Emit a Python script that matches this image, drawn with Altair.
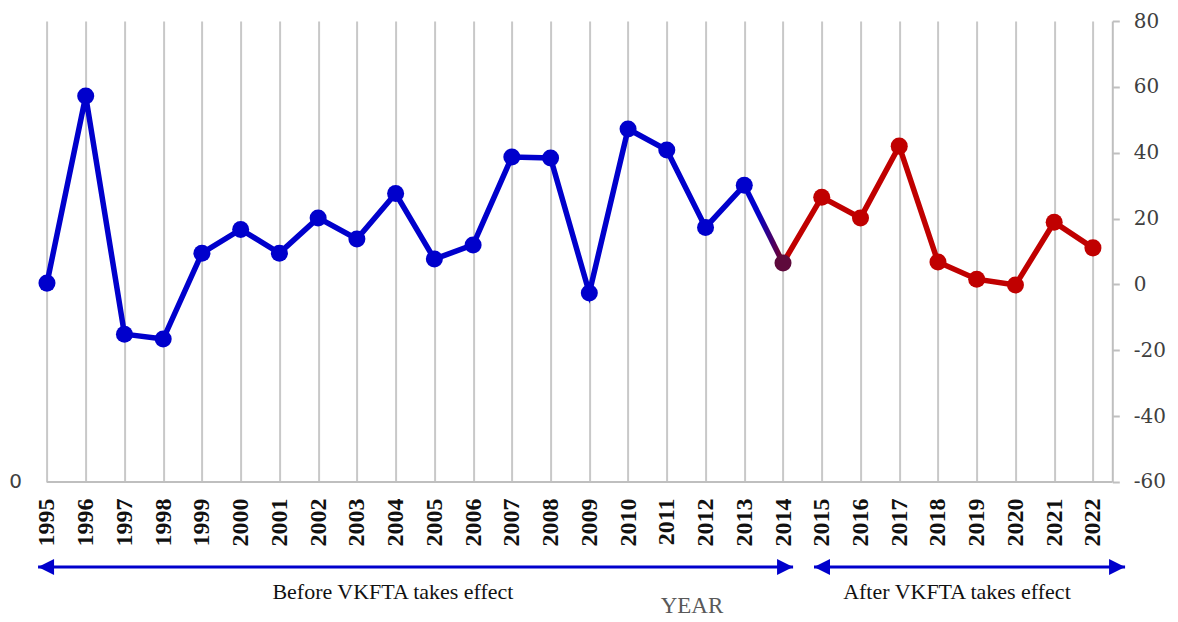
import altair as alt
import pandas as pd

# ---- data ----
years = list(range(1995, 2023))
values = [0.4, 57.2, -15.1, -16.6, 9.5, 16.7, 9.5, 20.2, 13.8, 27.6,
          7.7, 12.0, 38.7, 38.4, -2.6, 47.2, 40.8, 17.3, 30.1, 6.5,
          26.5, 20.2, 42.0, 6.8, 1.6, -0.2, 18.9, 11.1]
y_ticks = [-60, -40, -20, 0, 20, 40, 60, 80]

# period annotations (arrow extents in year units)
period_labels = ["Before VKFTA takes effect", "After VKFTA takes effect"]
arrow_from = [1994.77, 2014.80]
arrow_to = [2014.26, 2022.83]
label_center = [2003.93, 2018.49]

BLUE = "#0000CC"
RED = "#C00000"
JOIN = "#5E0A3C"
GRID = "#C8C8C8"

df = pd.DataFrame({"year": years, "value": values})

xscale = alt.Scale(domain=[1994.5, 2022.5], nice=False, zero=False)
yscale = alt.Scale(domain=[-60, 80], nice=False, zero=False)

x_enc = alt.X("year:Q", scale=xscale,
              axis=alt.Axis(values=years, format="d", labelAngle=-90,
                            labelFont="Liberation Serif", labelFontWeight="bold",
                            labelFontSize=24, labelColor="#111111",
                            labelPadding=16, ticks=False, domain=False,
                            grid=True, gridColor=GRID, gridWidth=2,
                            title=None, labelOverlap=False))
y_enc = alt.Y("value:Q", scale=yscale,
              axis=alt.Axis(orient="right", values=y_ticks, grid=False,
                            labelExpr="'' + datum.value",
                            labelFont="DejaVu Serif", labelFontSize=20,
                            labelColor="#404040", tickColor="#BFBFBF",
                            tickSize=7, tickWidth=2, domainColor="#BFBFBF",
                            domainWidth=2, labelPadding=14, title=None))

base = alt.Chart(df)

line_before = base.transform_filter("datum.year <= 2013").mark_line(
    color=BLUE, strokeWidth=5.5).encode(x=x_enc, y=y_enc)
line_join = base.transform_filter("datum.year >= 2013 && datum.year <= 2014").mark_line(
    strokeWidth=5.5,
    color=alt.Gradient(gradient="linear",
                       stops=[alt.GradientStop(color=BLUE, offset=0),
                              alt.GradientStop(color=BLUE, offset=0.35),
                              alt.GradientStop(color="#7A0020", offset=1)],
                       x1=0, x2=1, y1=0, y2=0)).encode(x="year:Q", y="value:Q")
line_after = base.transform_filter("datum.year >= 2014").mark_line(
    color=RED, strokeWidth=5.5).encode(x="year:Q", y="value:Q")

pts_before = base.transform_filter("datum.year <= 2013").mark_circle(
    color=BLUE, size=290, opacity=1).encode(x="year:Q", y="value:Q")
pts_join = base.transform_filter("datum.year == 2014").mark_circle(
    color=JOIN, size=290, opacity=1).encode(x="year:Q", y="value:Q")
pts_after = base.transform_filter("datum.year >= 2015").mark_circle(
    color=RED, size=290, opacity=1).encode(x="year:Q", y="value:Q")

# bottom axis line starting at 1995
axis_df = pd.DataFrame({"x0": [years[0]], "x1": [2022.5], "y": [y_ticks[0]]})
axis_line = alt.Chart(axis_df).mark_rule(color="#BFBFBF", strokeWidth=2).encode(
    x="x0:Q", x2="x1:Q", y="y:Q")

# period arrows
arr_df = pd.DataFrame({"label": period_labels, "a": arrow_from, "b": arrow_to,
                       "c": label_center})
ARROW_Y = 546
arrow_rules = alt.Chart(arr_df).mark_rule(color=BLUE, strokeWidth=3).encode(
    x="a:Q", x2="b:Q", y=alt.value(ARROW_Y))
head_left = alt.Chart(arr_df).mark_point(
    shape="M -1 0 L 1 -1 L 1 1 Z", filled=True, color=BLUE, opacity=1,
    size=256, xOffset=8).encode(x="a:Q", y=alt.value(ARROW_Y))
head_right = alt.Chart(arr_df).mark_point(
    shape="M 1 0 L -1 -1 L -1 1 Z", filled=True, color=BLUE, opacity=1,
    size=256, xOffset=-8).encode(x="b:Q", y=alt.value(ARROW_Y))
period_text = alt.Chart(arr_df).mark_text(
    font="Liberation Serif", fontSize=22, color="#111111", baseline="middle").encode(
    x="c:Q", y=alt.value(ARROW_Y + 25), text="label:N")

title_df = pd.DataFrame({"t": ["YEAR"], "x": [2011.65]})
year_title = alt.Chart(title_df).mark_text(
    font="Liberation Serif", fontSize=23, color="#595959", baseline="middle").encode(
    x="x:Q", y=alt.value(ARROW_Y + 39), text="t:N")

zero_df = pd.DataFrame({"t": ["0"]})
zero_label = alt.Chart(zero_df).mark_text(
    font="DejaVu Sans", fontSize=20, color="#404040", baseline="middle").encode(
    x=alt.value(-12), y=alt.value(461), text="t:N")

chart = alt.layer(
    line_before, line_join, line_after, pts_before, pts_join, pts_after,
    axis_line, arrow_rules, head_left, head_right, period_text, year_title,
    zero_label
).properties(
    width=1084.7, height=461,
    background="white",
    autosize=alt.AutoSizeParams(type="none"),
    padding={"left": 19.6, "top": 13, "right": 56, "bottom": 140},
).configure_view(stroke="transparent", strokeWidth=0)

chart.save("out.html", embed_options={"renderer": "svg", "actions": False})
